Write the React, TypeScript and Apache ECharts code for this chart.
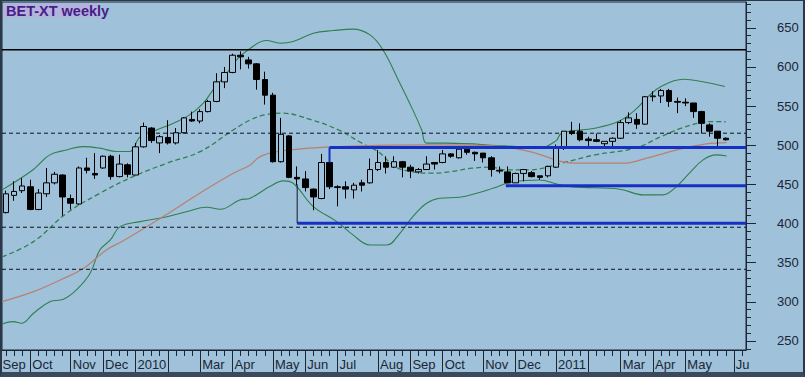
import React, { useEffect, useRef } from 'react';
import * as echarts from 'echarts';

// ---- data ----
const SLOT_COUNT = 92; // 90 weekly candles + 2 empty weeks at the right
const monthLabels: [number, string][] = [
  [0, 'Sep'], [3, 'Oct'], [8, 'Nov'], [12, 'Dec'], [16, '2010'], [20, ''], [24, 'Mar'], [28, 'Apr'],
  [33, 'May'], [37, 'Jun'], [41, 'Jul'], [46, 'Aug'], [50, 'Sep'], [54, 'Oct'], [59, 'Nov'], [63, 'Dec'],
  [68, '2011'], [72, ''], [76, 'Mar'], [80, 'Apr'], [84, 'May'], [90, 'Ju'],
];

const opens = [414, 436, 442, 447, 418, 438, 452, 462, 432, 425, 471, 464, 471, 486, 460, 475, 462, 498, 522, 503,
  510, 503, 516, 533, 531, 543, 556, 581, 593, 615, 609, 604, 584, 564, 479, 512, 459, 457, 444, 432,
  478, 447, 447, 443, 452, 452, 469, 478, 472, 479, 472, 466, 469, 478, 478, 489, 484, 495, 491, 490,
  484, 468, 466, 452, 464, 465, 461, 461, 472, 496, 518, 518, 508, 507, 502, 505, 509, 529, 533, 527,
  562, 563, 570, 556, 555, 554, 543, 526, 518, 509];
const closes = [438, 441, 448, 418, 439, 452, 463, 434, 426, 471, 468, 462, 486, 460, 476, 463, 498, 524, 506, 511,
  503, 516, 535, 531, 543, 556, 581, 593, 615, 613, 604, 584, 564, 479, 514, 459, 457, 446, 434, 478,
  447, 446, 444, 449, 449, 469, 478, 472, 479, 472, 467, 469, 476, 476, 489, 486, 495, 491, 489, 484,
  469, 467, 452, 464, 469, 460, 459, 473, 498, 518, 515, 507, 506, 505, 505, 509, 529, 535, 527, 562,
  563, 570, 556, 555, 554, 543, 528, 518, 509, 507];
const lows = [413, 429, 439, 417, 417, 434, 450, 410, 418, 424, 464, 457, 470, 456, 459, 459, 462, 497, 503, 490,
  501, 501, 515, 530, 528, 542, 555, 573, 592, 597, 598, 571, 552, 478, 478, 458, 449, 441, 417, 431,
  444, 422, 432, 432, 441, 451, 467, 464, 471, 459, 458, 464, 469, 469, 477, 484, 483, 488, 480, 478,
  460, 464, 452, 452, 454, 459, 456, 459, 471, 494, 513, 505, 499, 504, 499, 498, 508, 527, 521, 526,
  556, 554, 549, 541, 550, 535, 515, 511, 496, 506];
const highs = [442, 454, 458, 456, 444, 471, 466, 463, 437, 473, 484, 490, 487, 488, 488, 477, 503, 529, 523, 513,
  532, 522, 536, 543, 546, 558, 592, 600, 617, 620, 613, 605, 594, 567, 535, 513, 473, 467, 445, 489,
  490, 449, 454, 452, 456, 483, 494, 486, 486, 480, 475, 471, 486, 478, 494, 490, 498, 496, 492, 490,
  486, 473, 473, 465, 469, 467, 461, 474, 501, 518, 530, 528, 511, 515, 505, 510, 532, 542, 541, 563,
  569, 572, 572, 561, 560, 554, 544, 528, 518, 510];

// Bollinger bands and moving average: [week index, value]
const upperBand: [number, number][] = [
  [-0.5, 443], [3.3, 468.5], [5.4, 487.7], [7.5, 494], [9.5, 498.3], [11.6, 496.3], [13.7, 492], [15.3, 492],
  [16.6, 511], [18.6, 519.6], [20.7, 528.2], [22.7, 538.8], [24.4, 553.8], [25.6, 570.8], [27.3, 592],
  [28.5, 609], [30.2, 624], [32.2, 633.8], [33.9, 630.4], [35.5, 632.5], [38, 643.2], [40.5, 646.5],
  [42.9, 648.3], [45, 641], [46.6, 622], [48.7, 579.3], [50.3, 545.2], [51.4, 519.6], [52, 502.7],
  [54.3, 502.7], [61.7, 499.2], [66, 496.6], [68, 505.6], [68.7, 515.4], [72.8, 521.8], [75.7, 530.3],
  [77.8, 545.2], [79.4, 562.2], [81, 575], [83.9, 584.4], [86, 581.4], [88.9, 575],
];
const middleBand: [number, number][] = [
  [-0.5, 357.3], [3.4, 376.9], [7.5, 413.2], [11.6, 438.7], [15.7, 460], [19.9, 477.1], [24, 491.9],
  [28.1, 519.6], [30.2, 532.4], [32, 538.8], [34.1, 541], [37.8, 532.4], [41.1, 519.6], [44, 502.7],
  [46, 491.9], [48.1, 472.7], [50.1, 466.4], [52.6, 464.3], [55.1, 466.4], [57.6, 470.7], [60, 472],
  [61.7, 468.5], [64.6, 468.5], [68.7, 477.1], [72.8, 487.7], [77.8, 496.3], [81, 511.1], [83.5, 521.8],
  [86, 529], [87.6, 530.3], [89, 530],
];
const lowerBand: [number, number][] = [
  [-0.5, 271.7], [0.9, 274.7], [1.9, 272.6], [3.4, 285.4], [5.4, 300.2], [7.1, 303.3], [8.7, 315.2],
  [10.4, 336.5], [11.6, 366.3], [12.9, 379.1], [14.1, 396.1], [16.6, 402.5], [19.9, 408.8], [22.3, 415.2],
  [24.8, 420.9], [26.5, 418.3], [28.9, 430.2], [30.2, 432.4], [32.6, 447.2], [34.3, 454.5], [35.5, 451.5],
  [38, 421.6], [40.9, 402.5], [42.9, 385.5], [45, 372.7], [47.1, 372.7], [48.7, 387.6], [50.3, 408.8],
  [52, 426], [53.6, 432.4], [56.1, 433.6], [58.2, 438.7], [60.2, 445.1], [62.7, 453.6], [66, 455.7],
  [68.1, 450.6], [70.1, 446.8], [75.9, 443.9], [78.8, 436.6], [81.2, 436.6], [82.9, 447.2], [84.5, 464.3],
  [86.2, 481.3], [87.8, 487.7], [89.1, 486.4],
];
const longAverage: [number, number][] = [
  [-0.5, 300.2], [3.4, 313], [6.7, 327.9], [9.6, 342.9], [12.4, 366.3], [14.5, 378], [19.9, 412],
  [24, 439.1], [28.1, 464.3], [30.2, 474.9], [31.4, 485.5], [33.5, 491.9], [37.6, 496.3], [43.8, 499.2],
  [52, 500.5], [60.2, 499.2], [62.7, 496.3], [64.8, 491.9], [70.5, 477.1], [76.3, 477.1], [79.2, 483.5],
  [83.3, 495], [86.6, 501.8], [89.1, 503.4],
];

// horizontal levels
const solidLevels = [621.9];
const dashedLevels = [515.4, 395.3, 341.6];
// drawn channel: [start week, level]
const channelLevels: [number, number][] = [[40, 497.3], [61.8, 448.2], [36, 400.4]];
const channelConnector: [number, number][] = [[40, 497.3], [40, 478]];
const supportConnector: [number, number][] = [[36, 450], [36, 400.4]];

const yTicksMinor = [240, 250, 260, 270, 280, 290, 300, 310, 320, 330, 340, 350, 360, 370, 380, 390, 400, 410, 420, 430,
  440, 450, 460, 470, 480, 490, 500, 510, 520, 530, 540, 550, 560, 570, 580, 590, 600, 610, 620, 630, 640, 650,
  660, 670, 680];
const yTicksMajor = [250, 300, 350, 400, 450, 500, 550, 600, 650];

// ---- styling ----
const BG = '#9fc1d9';
const DARK = '#1b2636';
const GREEN = '#2f8050';
const BROWN = '#b98070';
const BLUE = '#1630c4';
const FONT = 'Arial, "Liberation Sans", sans-serif';

const categories = Array.from({ length: SLOT_COUNT }, (_, i) => `w${i}`);
const labelMap = new Map(monthLabels.map(([i, t]) => [categories[i], t]));
const monthIdx = new Set(monthLabels.map(([i]) => i));
const X_MIN = -0.5;
const X_MAX = SLOT_COUNT - 0.5;

function levelLine(level: number, from: number, style: any, name: string) {
  return {
    name,
    type: 'line',
    xAxisIndex: 2,
    yAxisIndex: 0,
    data: [[from, level], [X_MAX, level]],
    showSymbol: false,
    symbol: 'none',
    silent: true,
    lineStyle: style,
    z: 3,
  };
}

function buildOption(): any {
  const candles = opens.map((o, i) => [o, closes[i], lows[i], highs[i]]);
  const bandLine = (data: [number, number][], style: any, name: string) => ({
    name,
    type: 'line',
    xAxisIndex: 2,
    yAxisIndex: 0,
    data,
    smooth: 0.4,
    showSymbol: false,
    symbol: 'none',
    silent: true,
    lineStyle: style,
    z: 2,
  });
  return {
    animation: false,
    backgroundColor: BG,
    grid: {
      left: 2, top: 2, right: 59, bottom: 27,
      outerBoundsMode: 'none', containLabel: false,
      show: true, backgroundColor: BG, borderColor: DARK, borderWidth: 1,
    },
    xAxis: [
      {
        type: 'category', data: categories, boundaryGap: true, position: 'bottom',
        axisLine: { show: true, onZero: false, lineStyle: { color: DARK, width: 1 } },
        axisTick: { show: true, alignWithLabel: true, interval: 0, length: 6, lineStyle: { color: DARK } },
        axisLabel: {
          interval: 0, align: 'left', alignMinLabel: 'center', margin: 8, padding: [0, 0, 0, 2],
          fontSize: 13, fontFamily: FONT, color: DARK,
          formatter: (v: string) => (v === categories[0] ? `{first|${labelMap.get(v)}}` : labelMap.get(v) ?? ''),
          rich: {
            first: { padding: [0, 0, 0, 14], fontSize: 13, fontFamily: FONT, color: DARK },
          },
        },
        splitLine: { show: false },
      },
      {
        type: 'category', data: categories, boundaryGap: true, position: 'bottom',
        axisLine: { show: false, onZero: false },
        axisTick: {
          show: true, alignWithLabel: true, length: 23, lineStyle: { color: DARK },
          interval: (idx: number) => monthIdx.has(idx) && idx > 0,
        },
        axisLabel: { show: false },
        splitLine: { show: false },
      },
      {
        type: 'value', min: X_MIN, max: X_MAX, show: false, position: 'bottom',
        axisLine: { onZero: false }, splitLine: { show: false },
      },
    ],
    yAxis: [
      {
        type: 'value', position: 'right', min: 238.5, max: 683,
        axisLine: { show: true, onZero: false, lineStyle: { color: DARK, width: 1 } },
        axisTick: { show: true, length: 5, customValues: yTicksMinor, lineStyle: { color: DARK } },
        axisLabel: { show: false },
        splitLine: { show: false },
      },
      {
        type: 'value', position: 'right', min: 238.5, max: 683,
        axisLine: { show: false, onZero: false },
        axisTick: { show: true, length: 10, customValues: yTicksMajor, lineStyle: { color: DARK } },
        axisLabel: {
          show: true, customValues: yTicksMajor, margin: 31,
          fontSize: 13, fontFamily: FONT, color: DARK,
        },
        splitLine: { show: false },
      },
    ],
    graphic: [
      {
        type: 'group', left: 3, top: 3, z: 100,
        children: [
          { type: 'rect', shape: { x: 0, y: 0, width: 97, height: 14 }, style: { fill: '#b2b4de' } },
          {
            type: 'text', x: 3, y: -0.5,
            style: { text: 'BET-XT weekly', font: `bold 14.5px ${FONT}`, fill: '#4a1c88' },
          },
        ],
      },
    ],
    series: [
      ...solidLevels.map((l, k) => levelLine(l, X_MIN, { color: '#000', width: 1.5 }, `solid${k}`)),
      ...dashedLevels.map((l, k) => levelLine(l, X_MIN, { color: '#0a1420', width: 1, type: [4, 3] }, `dash${k}`)),
      bandLine(upperBand, { color: GREEN, width: 1.1 }, 'BB upper'),
      bandLine(lowerBand, { color: GREEN, width: 1.1 }, 'BB lower'),
      bandLine(middleBand, { color: GREEN, width: 1.3, type: [5, 3] }, 'BB middle'),
      bandLine(longAverage, { color: BROWN, width: 1.2 }, 'MA'),
      {
        name: 'BET-XT', type: 'candlestick', xAxisIndex: 0, yAxisIndex: 0,
        data: candles, barWidth: 6, z: 5,
        itemStyle: {
          color: BG, color0: '#000', borderColor: '#000', borderColor0: '#000',
          borderColorDoji: '#000', borderWidth: 1,
        },
      },
      ...channelLevels.map(([from, l], k) => levelLine(l, from, { color: BLUE, width: 3 }, `channel${k}`)).map((s) => ({ ...s, z: 6 })),
      {
        name: 'channelEdge', type: 'line', xAxisIndex: 2, yAxisIndex: 0, data: channelConnector,
        showSymbol: false, symbol: 'none', silent: true, lineStyle: { color: BLUE, width: 2 }, z: 6,
      },
      {
        name: 'supportEdge', type: 'line', xAxisIndex: 2, yAxisIndex: 0, data: supportConnector,
        showSymbol: false, symbol: 'none', silent: true, lineStyle: { color: '#101830', width: 1 }, z: 6,
      },
    ],
  };
}

export default function App() {
  const ref = useRef<HTMLDivElement>(null);
  useEffect(() => {
    document.body.style.margin = '0';
    const chart = echarts.init(ref.current!, null, { renderer: 'svg', width: 805, height: 377 });
    chart.setOption(buildOption());
    return () => chart.dispose();
  }, []);
  return (
    <div style={{ position: 'relative', width: 805, height: 377 }}>
      <div ref={ref} style={{ width: 805, height: 377 }} />
      <div
        style={{
          position: 'absolute', left: 0, top: 0, width: 805, height: 377, boxSizing: 'border-box',
          borderTop: '1px solid #2a3848', borderLeft: '2px solid #2a3848', borderRight: '2px solid #2a3848',
          borderBottom: '5px solid #3a4a5c', pointerEvents: 'none',
        }}
      />
    </div>
  );
}
